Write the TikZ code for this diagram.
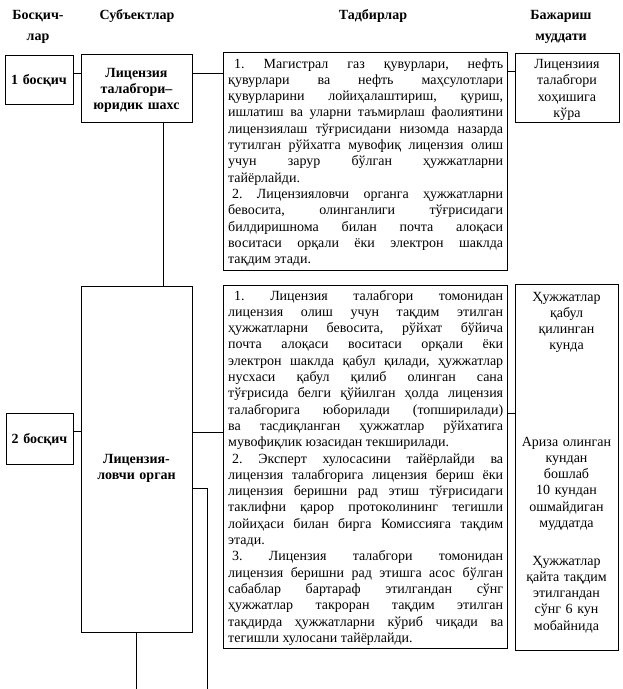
\documentclass[tikz,border=0pt]{standalone}
\usepackage{fontspec}
\setmainfont{Liberation Serif}
\frenchspacing
\begin{document}
\begin{tikzpicture}[x=1pt,y=-1pt,
  frame/.style={draw, line width=0.8pt, inner sep=0pt, anchor=north west},
  hdr/.style={font=\fontsize{14}{21}\selectfont\bfseries, text width=110pt, align=center, inner sep=0pt, anchor=base},
  lbl/.style={font=\fontsize{14}{16.3}\selectfont\bfseries, text width=110pt, align=center, inner sep=0pt, anchor=base},
  ctr/.style={font=\fontsize{14}{16.3}\selectfont, text width=100pt, align=center, inner sep=0pt, anchor=base},
  body/.style={font=\fontsize{14}{16.3}\selectfont, text width=275pt, align=justify, inner sep=0pt, anchor=base west,
    execute at begin node={\frenchspacing\tolerance=10000\pretolerance=-1\hbadness=10000\hyphenpenalty=10000\parindent=0pt}},
  link/.style={line width=0.8pt}
]
\useasboundingbox (0,0) rectangle (623,689);
% headers
\node[hdr] (h1) at (38,19) {Босқич-\\лар};
\node[hdr] (h2) at (137,19) {Субъектлар};
\node[hdr] (h3) at (373,19) {Тадбирлар};
\node[hdr] (h4) at (561,19) {Бажариш\\муддати};
% boxes
\node[frame, minimum width=68pt, minimum height=49pt] (st1) at (5,55) {};
\node[frame, minimum width=111pt, minimum height=68pt] (sub1) at (81,54) {};
\node[frame, minimum width=284pt, minimum height=218pt] (t1) at (223,52) {};
\node[frame, minimum width=104pt, minimum height=69pt] (r1) at (515,53) {};
\node[frame, minimum width=67pt, minimum height=51pt] (st2) at (6,413) {};
\node[frame, minimum width=111pt, minimum height=346pt] (sub2) at (81,286) {};
\node[frame, minimum width=284pt, minimum height=363pt] (t2) at (223,285) {};
\node[frame, minimum width=103pt, minimum height=366pt] (r2) at (515,284) {};
% texts
\node[lbl] (st1t) at (39,84) {1 босқич};
\node[lbl] (sub1t) at (136.5,77) {Лицензия\\талабгори–\\юридик шахс};
\node[ctr] (r1t) at (567,68.5) {Лицензиия\\талабгори\\хоҳишига\\кўра};
\node[lbl] (st2t) at (39.5,443) {2 босқич};
\node[lbl] (sub2t) at (136.5,463) {Лицензия-\\ловчи орган};
\node[body] (t1t) at (228,68) {\hspace*{6pt}1. Магистрал газ қувурлари, нефть\linebreak
қувурлари ва нефть маҳсулотлари\linebreak
қувурларини лойиҳалаштириш, қуриш,\linebreak
ишлатиш ва уларни таъмирлаш фаолиятини\linebreak
лицензиялаш тўғрисидани низомда назарда\linebreak
тутилган рўйхатга мувофиқ лицензия олиш\linebreak
учун зарур бўлган ҳужжатларни\linebreak
тайёрлайди.\par
\hspace*{4pt}2. Лицензияловчи органга ҳужжатларни\linebreak
бевосита, олинганлиги тўғрисидаги\linebreak
билдиришнома билан почта алоқаси\linebreak
воситаси орқали ёки электрон шаклда\linebreak
тақдим этади.\par};
\node[body] (t2t) at (228,300) {\hspace*{6pt}1. Лицензия талабгори томонидан\linebreak
лицензия олиш учун тақдим этилган\linebreak
ҳужжатларни бевосита, рўйхат бўйича\linebreak
почта алоқаси воситаси орқали ёки\linebreak
электрон шаклда қабул қилади, ҳужжатлар\linebreak
нусхаси қабул қилиб олинган сана\linebreak
тўғрисида белги қўйилган ҳолда лицензия\linebreak
талабгорига юборилади (топширилади)\linebreak
ва тасдиқланган ҳужжатлар рўйхатига\linebreak
мувофиқлик юзасидан текширилади.\par
\hspace*{4pt}2. Эксперт хулосасини тайёрлайди ва\linebreak
лицензия талабгорига лицензия бериш ёки\linebreak
лицензия беришни рад этиш тўғрисидаги\linebreak
таклифни қарор протоколининг тегишли\linebreak
лойиҳаси билан бирга Комиссияга тақдим\linebreak
этади.\par
\hspace*{4pt}3. Лицензия талабгори томонидан\linebreak
лицензия беришни рад этишга асос бўлган\linebreak
сабаблар бартараф этилгандан сўнг\linebreak
ҳужжатлар такроран тақдим этилган\linebreak
тақдирда ҳужжатларни кўриб чиқади ва\linebreak
тегишли хулосани тайёрлайди.\par};
\node[ctr] (r2a) at (566.5,301) {Ҳужжатлар\\қабул\\қилинган\\кунда};
\node[ctr] (r2b) at (566.5,446) {Ариза олинган\\кундан\\бошлаб\\10 кундан\\ошмайдиган\\муддатда};
\node[ctr] (r2c) at (566.5,565) {Ҳужжатлар\\қайта тақдим\\этилгандан\\сўнг 6 кун\\мобайнида};
% connectors
\coordinate (ya) at (0,73);
\coordinate (yb) at (0,71);
\coordinate (xa) at (163,0);
\coordinate (yc) at (0,431);
\coordinate (yd) at (0,432);
\coordinate (ye) at (0,413);
\coordinate (yf) at (0,488);
\coordinate (e1) at (136,689);
\coordinate (e2) at (207,689);
\draw[link] (st1.east |- ya) -- (sub1.west |- ya);
\draw[link] (sub1.east |- ya) -- (t1.west |- ya);
\draw[link] (t1.east |- yb) -- (r1.west |- yb);
\draw[link] (sub1.south -| xa) -- (sub2.north -| xa);
\draw[link] (st2.east |- yc) -- (sub2.west |- yc);
\draw[link] (sub2.east |- yd) -- (t2.west |- yd);
\draw[link] (t2.east |- ye) -- (r2.west |- ye);
\draw[link] (sub2.south -| e1) -- (e1);
\draw[link] (sub2.east |- yf) -| (e2);
\end{tikzpicture}
\end{document}
